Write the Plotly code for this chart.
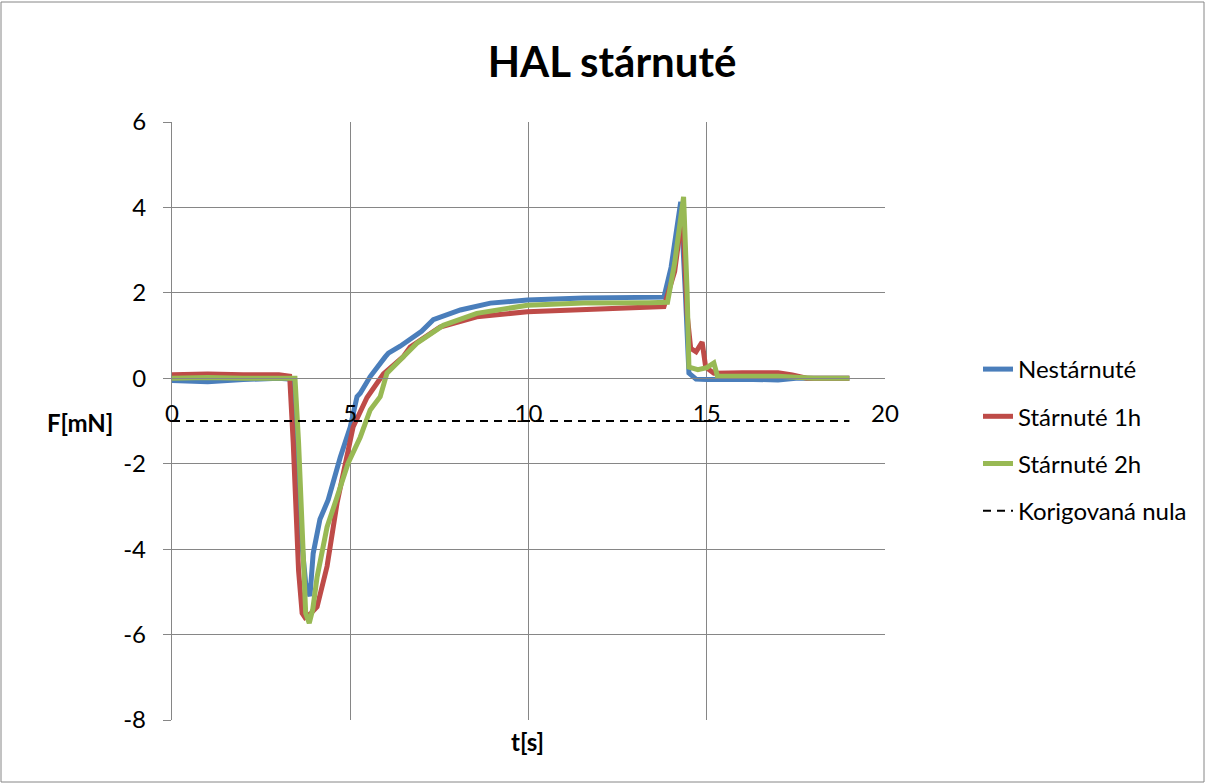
import plotly.graph_objects as go

# ---- data ----
t_nest = [0, 1, 2, 3, 3.35, 3.45, 3.6, 3.75, 3.87, 3.96, 4.15, 4.38, 4.55, 4.72, 5.0, 5.19, 5.28,
          5.56, 5.98, 6.07, 6.4, 6.68, 7.0, 7.33, 8.09, 8.93, 9.97, 11.55, 13.4, 13.8, 14.0,
          14.27, 14.4, 14.5, 14.7, 15, 16, 17, 17.5, 18, 19]
f_nest = [-0.05, -0.08, -0.03, 0.0, -0.02, -1.5, -3.5, -4.8, -5.1, -4.1, -3.3, -2.85, -2.3,
          -1.85, -1.14, -0.43, -0.35, 0.04, 0.5, 0.59, 0.75, 0.9, 1.1, 1.37, 1.6, 1.76, 1.83,
          1.88, 1.9, 1.9, 2.6, 4.13, 2.0, 0.12, -0.02, -0.03, -0.02, -0.04, 0.0, 0.0, 0.0]

t_1h = [0, 1, 2, 3, 3.3, 3.4, 3.55, 3.65, 3.73, 3.9, 4.07, 4.35, 4.63, 4.86, 5.08, 5.47, 5.93,
        6.48, 6.68, 7.52, 8.55, 9.97, 11.55, 13.4, 13.8, 14.1, 14.32, 14.45, 14.55, 14.7,
        14.87, 14.97, 15.2, 16, 17, 17.4, 17.8, 19]
f_1h = [0.08, 0.1, 0.08, 0.08, 0.05, -1.5, -4.5, -5.5, -5.6, -5.5, -5.35, -4.4, -2.92, -2.07,
        -1.14, -0.45, 0.1, 0.5, 0.73, 1.2, 1.44, 1.56, 1.61, 1.67, 1.68, 2.5, 3.9, 1.5, 0.7,
        0.62, 0.85, 0.26, 0.12, 0.13, 0.13, 0.08, 0.0, 0.0]

t_2h = [0, 1, 2, 3, 3.45, 3.55, 3.65, 3.75, 3.85, 3.95, 4.07, 4.35, 4.63, 4.94, 5.28, 5.56,
        5.84, 6.03, 6.4, 6.87, 7.61, 8.55, 9.97, 11.55, 13.4, 13.9, 14.1, 14.35, 14.45, 14.5,
        14.75, 15.0, 15.2, 15.3, 16, 17, 18, 19]
f_2h = [0.0, 0.02, 0.0, 0.02, 0.0, -1.5, -3.8, -5.5, -5.73, -5.4, -4.65, -3.48, -2.78, -1.99,
        -1.38, -0.74, -0.43, 0.12, 0.43, 0.82, 1.24, 1.52, 1.71, 1.76, 1.77, 1.78, 2.7, 4.25,
        2.0, 0.26, 0.2, 0.25, 0.36, 0.05, 0.05, 0.05, 0.0, 0.0]

t_nula = [0, 19]
f_nula = [-1, -1]

series_names = ["Nestárnuté", "Stárnuté 1h", "Stárnuté 2h", "Korigovaná nula"]
x_ticks = [0, 5, 10, 15, 20]
y_ticks = [-8, -6, -4, -2, 0, 2, 4, 6]

# ---- layout geometry ----
W, H = 1206, 784
ML, MR, MT, MB = 172, 321, 122, 64
PW, PH = W - ML - MR, H - MT - MB
FONT = "Lato, Calibri, Arial, sans-serif"
GRID = "#868686"
FS = 24

def px_x(px):
    return (px - ML) / PW

def px_y(py):
    return (H - MB - py) / PH

fig = go.Figure()
fig.add_trace(go.Scatter(x=t_nest, y=f_nest, mode="lines", name=series_names[0],
                         line=dict(color="#4A7EBB", width=5), legendgroup="a"))
fig.add_trace(go.Scatter(x=t_1h, y=f_1h, mode="lines", name=series_names[1],
                         line=dict(color="#BE4B48", width=5), legendgroup="b"))
fig.add_trace(go.Scatter(x=t_2h, y=f_2h, mode="lines", name=series_names[2],
                         line=dict(color="#98B954", width=5), legendgroup="c"))
fig.add_trace(go.Scatter(x=t_nula, y=f_nula, mode="lines", name=series_names[3],
                         line=dict(color="black", width=2, dash="8px,6px"), legendgroup="d"))

fig.update_layout(
    width=W, height=H,
    margin=dict(l=ML, r=MR, t=MT, b=MB),
    paper_bgcolor="white", plot_bgcolor="white",
    font=dict(family=FONT, size=FS, color="black"),
    title=dict(text="<b>HAL stárnuté</b>", x=612 / W, xanchor="center",
               y=1 - 62 / H, yanchor="middle", font=dict(size=42, family=FONT)),
    legend=dict(x=px_x(978), y=px_y(347), xanchor="left", yanchor="top",
                font=dict(size=FS, family=FONT), tracegroupgap=13,
                bgcolor="rgba(0,0,0,0)"),
    showlegend=True,
)

fig.update_xaxes(
    range=[0, 20], tickvals=x_ticks, ticktext=[str(v) for v in x_ticks],
    showgrid=True, gridcolor=GRID, gridwidth=1.3,
    zeroline=False, showline=True, linecolor=GRID, linewidth=1.3,
    anchor="free", position=8 / 14, ticks="", ticklabelstandoff=14,
    tickfont=dict(size=FS, family=FONT),
)
fig.update_yaxes(
    range=[-8, 6], tickvals=y_ticks, ticktext=[str(v) for v in y_ticks],
    showgrid=True, gridcolor=GRID, gridwidth=1.3,
    zeroline=False, showline=True, linecolor=GRID, linewidth=1.3,
    ticks="outside", ticklen=8, tickcolor=GRID, tickwidth=1.3,
    ticklabelstandoff=12,
    tickfont=dict(size=FS, family=FONT),
)

fig.add_annotation(text="<b>F[mN]</b>", xref="paper", yref="paper",
                   x=px_x(80), y=px_y(422), xanchor="center", yanchor="middle",
                   showarrow=False, font=dict(size=FS, family=FONT))
fig.add_annotation(text="<b>t[s]</b>", xref="paper", yref="paper",
                   x=px_x(527), y=px_y(741), xanchor="center", yanchor="middle",
                   showarrow=False, font=dict(size=FS, family=FONT))

# outer chart border
fig.add_shape(type="rect", xref="paper", yref="paper",
              x0=px_x(1), x1=px_x(1204), y0=px_y(782), y1=px_y(2),
              line=dict(color=GRID, width=1), layer="below")

fig.write_html("out.html", config={"displayModeBar": False},
               post_script="document.body.style.margin='0';document.body.style.padding='0';")
